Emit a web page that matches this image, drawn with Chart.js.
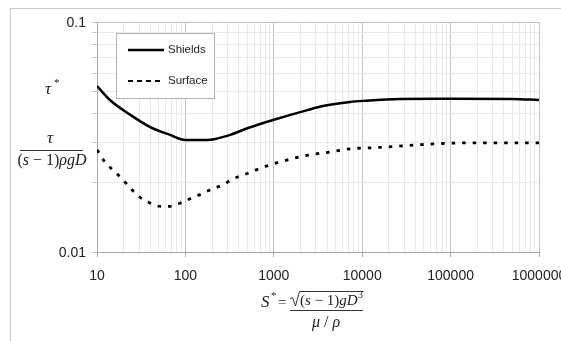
<!DOCTYPE html>
<html>
<head>
<meta charset="utf-8">
<script src="https://cdn.jsdelivr.net/npm/chart.js@4.4.1/dist/chart.umd.min.js"></script>
<style>
  html, body { margin: 0; padding: 0; background: #fff; }
  #wrap { width: 561px; height: 341px; }
</style>
</head>
<body>
<div id="wrap"><canvas id="shieldsChart" width="561" height="341"></canvas></div>
<script>
// values
const shieldsX = [10, 14, 24, 40, 67, 100, 175, 320, 510, 980, 2400, 3600, 7300, 10200, 27000, 100000, 500000, 1000000];
const shieldsY = [0.0527, 0.0458, 0.0394, 0.0349, 0.0323, 0.0307, 0.0307, 0.0323, 0.0346, 0.0375, 0.0414, 0.0431, 0.0449, 0.0454, 0.0463, 0.0464, 0.0463, 0.0458];

const surfaceX = [10, 12.3, 16, 19.7, 23.6, 30.6, 40, 52, 67, 87, 119, 154, 200, 266, 345, 450, 840, 1410, 2440, 4330, 7300, 13000, 22000, 40000, 150000, 1000000];
const surfaceY = [0.0278, 0.0246, 0.0223, 0.0206, 0.0190, 0.0173, 0.0163, 0.0158, 0.0158, 0.0163, 0.0172, 0.0179, 0.0188, 0.0196, 0.0208, 0.0216, 0.0237, 0.0251, 0.0264, 0.0272, 0.0281, 0.0284, 0.0287, 0.0292, 0.0298, 0.0298];

const xTickLabels = [10, 100, 1000, 10000, 100000, 1000000];
const yTickLabels = [0.01, 0.1];
const seriesNames = ["Shields", "Surface"];

function toPoints(xs, ys) {
    return xs.map((x, i) => ({ x: x, y: ys[i] }));
}

function isDecade(v) {
    const l = Math.log10(v);
    return Math.abs(l - Math.round(l)) < 1e-6;
}

// 1..9 x 10^n gridlines between min and max
function logGrid(scale) {
    const out = [];
    for (let e = Math.floor(Math.log10(scale.min)); e <= Math.ceil(Math.log10(scale.max)); e++) {
        for (let s = 1; s <= 9; s++) {
            const v = Number((s * Math.pow(10, e)).toPrecision(6));
            if (v >= scale.min * 0.999 && v <= scale.max * 1.001) out.push({ value: v });
        }
    }
    scale.ticks = out;
}

// draw text runs [text, italic] one after another
function drawRuns(ctx, runs, x, y, size, align) {
    let total = 0;
    runs.forEach(r => {
        ctx.font = (r[1] ? "italic " : "") + size + "px 'Liberation Serif', 'DejaVu Serif', serif";
        total += ctx.measureText(r[0]).width;
    });
    let cx = align === "center" ? x - total / 2 : x;
    ctx.textAlign = "left";
    runs.forEach(r => {
        ctx.font = (r[1] ? "italic " : "") + size + "px 'Liberation Serif', 'DejaVu Serif', serif";
        ctx.fillText(r[0], cx, y);
        cx += ctx.measureText(r[0]).width;
    });
    return cx;
}

const decorPlugin = {
    id: "decor",
    beforeDraw(chart) {
        const ctx = chart.ctx;
        ctx.save();
        ctx.strokeStyle = "#c8c8c8";
        ctx.lineWidth = 1;
        ctx.beginPath();
        ctx.moveTo(10.5, 341);
        ctx.lineTo(10.5, 8.5);
        ctx.lineTo(561, 8.5);
        ctx.stroke();
        ctx.restore();
    },
    afterDatasetsDraw(chart) {
        const ctx = chart.ctx;
        ctx.save();
        // legend box
        ctx.fillStyle = "#fff";
        ctx.strokeStyle = "#b4b4b4";
        ctx.lineWidth = 1;
        ctx.fillRect(116.5, 33.5, 98, 65);
        ctx.strokeRect(116.5, 33.5, 98, 65);
        ctx.strokeStyle = "#000";
        ctx.lineWidth = 2.5;
        ctx.beginPath();
        ctx.moveTo(128, 50);
        ctx.lineTo(164, 50);
        ctx.stroke();
        ctx.lineWidth = 2.2;
        ctx.setLineDash([5, 4]);
        ctx.beginPath();
        ctx.moveTo(128, 81);
        ctx.lineTo(164, 81);
        ctx.stroke();
        ctx.setLineDash([]);
        ctx.fillStyle = "#222";
        ctx.font = "11.5px 'Liberation Sans', Arial, sans-serif";
        ctx.textBaseline = "middle";
        ctx.textAlign = "left";
        ctx.fillText(seriesNames[0], 168, 50);
        ctx.fillText(seriesNames[1], 168, 81);
        ctx.restore();
    },
    afterDraw(chart) {
        const ctx = chart.ctx;
        const xs = chart.scales.x, ys = chart.scales.y;
        ctx.save();
        ctx.fillStyle = "#222";
        ctx.font = "14px 'Liberation Sans', Arial, sans-serif";
        ctx.textBaseline = "middle";
        ctx.textAlign = "center";
        xTickLabels.forEach(v => ctx.fillText(String(v), xs.getPixelForValue(v), 276));
        ctx.textAlign = "right";
        yTickLabels.forEach(v => ctx.fillText(String(v), 86, ys.getPixelForValue(v) + 1));

        // y axis title
        ctx.fillStyle = "#222";
        ctx.textBaseline = "alphabetic";
        drawRuns(ctx, [["\u03c4", true]], 48, 94, 17, "center");
        ctx.font = "11px 'Liberation Serif', serif";
        ctx.textAlign = "left";
        ctx.fillText("*", 54, 86);
        drawRuns(ctx, [["\u03c4", true]], 50, 143, 17, "center");
        ctx.strokeStyle = "#333";
        ctx.lineWidth = 1;
        ctx.beginPath();
        ctx.moveTo(20, 150.5);
        ctx.lineTo(83, 150.5);
        ctx.stroke();
        drawRuns(ctx, [["(", false], ["s", true], [" \u2212 1)", false], ["\u03c1gD", true]], 52, 165, 16, "center");

        // x axis title
        drawRuns(ctx, [["S", true]], 261, 307, 17, "left");
        ctx.font = "11px 'Liberation Serif', serif";
        ctx.textAlign = "left";
        ctx.fillText("*", 271, 299);
        drawRuns(ctx, [["=", false]], 278, 307, 15, "left");
        ctx.beginPath();
        ctx.moveTo(290, 310.5);
        ctx.lineTo(363, 310.5);
        ctx.stroke();
        const endX = drawRuns(ctx, [["(", false], ["s", true], [" \u2212 1)", false], ["gD", true]], 300, 305, 15, "left");
        ctx.font = "10px 'Liberation Serif', serif";
        ctx.fillText("3", endX + 0.5, 298);
        // radical sign
        ctx.beginPath();
        ctx.moveTo(290, 299);
        ctx.lineTo(292.5, 297.5);
        ctx.lineTo(295.5, 306);
        ctx.lineTo(299.5, 291.5);
        ctx.lineTo(Math.max(362, endX + 6), 291.5);
        ctx.stroke();
        drawRuns(ctx, [["\u03bc", true], [" / ", false], ["\u03c1", true]], 326, 327, 16, "center");
        ctx.restore();
    }
};

new Chart(document.getElementById("shieldsChart"), {
    type: "line",
    data: {
        datasets: [{
            label: seriesNames[0],
            data: toPoints(shieldsX, shieldsY),
            borderColor: "#000",
            borderWidth: 2.5,
            pointRadius: 0,
            cubicInterpolationMode: "monotone",
            fill: false
        }, {
            label: seriesNames[1],
            data: toPoints(surfaceX, surfaceY),
            borderColor: "#000",
            borderWidth: 2.8,
            borderDash: [3.5, 7],
            borderCapStyle: "butt",
            pointRadius: 0,
            cubicInterpolationMode: "monotone",
            fill: false
        }]
    },
    options: {
        responsive: false,
        animation: false,
        devicePixelRatio: 1,
        layout: { padding: { left: 92, right: 22, top: 22, bottom: 84 } },
        plugins: { legend: { display: false }, tooltip: { enabled: false } },
        scales: {
            x: {
                type: "logarithmic",
                min: 10,
                max: 1000000,
                afterBuildTicks: logGrid,
                ticks: { display: false },
                grid: {
                    color: c => isDecade(c.tick.value) ? "#c4c4c4" : "#e8e8e8",
                    tickColor: c => isDecade(c.tick.value) ? "#a8a8a8" : "rgba(0,0,0,0)",
                    tickLength: 5
                },
                border: { color: "#a8a8a8" }
            },
            y: {
                type: "logarithmic",
                min: 0.01,
                max: 0.1,
                afterBuildTicks: logGrid,
                ticks: { display: false },
                grid: {
                    color: c => isDecade(c.tick.value) ? "#c4c4c4" : "#e8e8e8",
                    tickColor: "#c8c8c8",
                    tickLength: 5
                },
                border: { color: "#a8a8a8" }
            }
        }
    },
    plugins: [decorPlugin]
});
</script>
</body>
</html>
